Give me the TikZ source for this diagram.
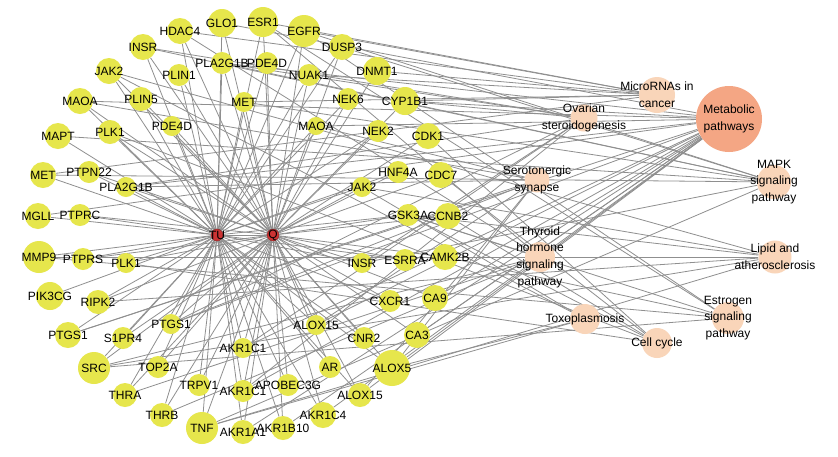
\documentclass[tikz,border=0pt]{standalone}
\usepackage{fontspec}
\setmainfont{Liberation Sans}
\pgfdeclarelayer{bg}
\pgfsetlayers{bg,main}
\definecolor{yel}{HTML}{E6E64C}
\definecolor{peach}{HTML}{F9D5B9}
\definecolor{salmon}{HTML}{F4A684}
\definecolor{hubred}{HTML}{CC3333}
\definecolor{edgegray}{HTML}{8F8F8F}
\tikzset{
 tgt/.style={circle,fill=yel,inner sep=0pt},
 pw/.style={circle,fill=peach,inner sep=0pt},
 hubnode/.style={circle,fill=hubred,draw=hubred!60!black,line width=0.4pt,inner sep=0pt,minimum size=12pt},
 lab/.style={font=\fontsize{12}{16.7}\selectfont,align=center,inner sep=0pt,text=black},
 lnk/.style={draw=edgegray,line width=0.8pt},
}
\newcommand\Tn[5]{\node[tgt,minimum size=#4pt] (#1) at (#2,#3) {}; \node[lab] (#1l) at (#1) {#5};}
\newcommand\Pn[6]{\node[pw,fill=#6,minimum size=#4pt] (#1) at (#2,#3) {}; \node[lab] (#1l) at (#1) {#5};}
\begin{document}
\begin{tikzpicture}[x=1pt,y=-1pt]
\useasboundingbox (0,0) rectangle (838,456);
% targets
\Tn{t1}{180}{31}{26}{HDAC4}
\Tn{t2}{222}{23}{28}{GLO1}
\Tn{t3}{263}{22}{30}{ESR1}
\Tn{t4}{304}{31}{32}{EGFR}
\Tn{t5}{143}{47}{26}{INSR}
\Tn{t6}{222}{63}{22}{PLA2G1B}
\Tn{t7}{267}{63}{22}{PDE4D}
\Tn{t8}{342}{47}{26}{DUSP3}
\Tn{t9}{109}{71}{26}{JAK2}
\Tn{t10}{179}{75}{22}{PLIN1}
\Tn{t11}{309}{75}{22}{NUAK1}
\Tn{t12}{377}{71}{28}{DNMT1}
\Tn{t13}{80}{101}{26}{MAOA}
\Tn{t14}{141}{99}{24}{PLIN5}
\Tn{t15}{244}{102}{20}{MET}
\Tn{t16}{348}{99}{22}{NEK6}
\Tn{t17}{405}{101}{28}{CYP1B1}
\Tn{t18}{58}{136}{26}{MAPT}
\Tn{t19}{110}{132}{24}{PLK1}
\Tn{t20}{172}{126}{20}{PDE4D}
\Tn{t21}{316}{126}{18}{MAOA}
\Tn{t22}{378}{131}{22}{NEK2}
\Tn{t23}{428}{136}{26}{CDK1}
\Tn{t24}{43}{175}{26}{MET}
\Tn{t25}{89}{172}{22}{PTPN22}
\Tn{t26}{126}{187}{20}{PLA2G1B}
\Tn{t27}{362}{187}{20}{JAK2}
\Tn{t28}{398}{172}{22}{HNF4A}
\Tn{t29}{441}{175}{26}{CDC7}
\Tn{t30}{38}{216}{26}{MGLL}
\Tn{t31}{80}{215}{22}{PTPRC}
\Tn{t32}{408}{215}{22}{GSK3A}
\Tn{t33}{448}{216}{26}{CCNB2}
\Tn{t34}{39}{257}{32}{MMP9}
\Tn{t35}{83}{259}{22}{PTPRS}
\Tn{t36}{126}{263}{20}{PLK1}
\Tn{t37}{362}{263}{20}{INSR}
\Tn{t38}{405}{260}{22}{ESRRA}
\Tn{t39}{445}{257}{26}{CAMK2B}
\Tn{t40}{50}{296}{28}{PIK3CG}
\Tn{t41}{98}{302}{24}{RIPK2}
\Tn{t42}{390}{301}{22}{CXCR1}
\Tn{t43}{435}{298}{26}{CA9}
\Tn{t44}{68}{335}{26}{PTGS1}
\Tn{t45}{171}{324}{20}{PTGS1}
\Tn{t46}{316}{325}{20}{ALOX15}
\Tn{t47}{123}{338}{22}{S1PR4}
\Tn{t48}{364}{338}{22}{CNR2}
\Tn{t49}{417}{335}{26}{CA3}
\Tn{t50}{243}{348}{20}{AKR1C1}
\Tn{t51}{94}{368}{32}{SRC}
\Tn{t52}{158}{367}{22}{TOP2A}
\Tn{t53}{330}{367}{22}{AR}
\Tn{t54}{392}{368}{36}{ALOX5}
\Tn{t55}{125}{395}{24}{THRA}
\Tn{t56}{199}{385}{22}{TRPV1}
\Tn{t57}{243}{391}{22}{AKR1C1}
\Tn{t58}{288}{385}{22}{APOBEC3G}
\Tn{t59}{360}{395}{24}{ALOX15}
\Tn{t60}{162}{415}{24}{THRB}
\Tn{t61}{202}{428}{32}{TNF}
\Tn{t62}{243}{432}{24}{AKR1A1}
\Tn{t63}{283}{428}{24}{AKR1B10}
\Tn{t64}{323}{415}{26}{AKR1C4}
% hubs
\node[hubnode] (TU) at (217,235) {};
\node[lab] (TUl) at (TU) {TU};
\node[hubnode] (Q) at (273,235) {};
\node[lab] (Ql) at (Q) {Q};
% pathways
\Pn{pM}{729}{119}{66}{Metabolic\\pathways}{salmon}
\Pn{pR}{657}{95}{36}{MicroRNAs in\\cancer}{peach}
\Pn{pO}{584}{118}{27}{Ovarian\\steroidogenesis}{peach}
\Pn{pS}{537}{180}{25}{Serotonergic\\synapse}{peach}
\Pn{pK}{774}{182}{34}{MAPK\\signaling\\pathway}{peach}
\Pn{pH}{540}{257}{30}{Thyroid\\hormone\\signaling\\pathway}{peach}
\Pn{pL}{775}{257}{33}{Lipid and\\atherosclerosis}{peach}
\Pn{pX}{585}{319}{30}{Toxoplasmosis}{peach}
\Pn{pE}{728}{318}{32}{Estrogen\\signaling\\pathway}{peach}
\Pn{pC}{657}{343}{30}{Cell cycle}{peach}
\begin{pgfonlayer}{bg}
\fill[white] (0,0) rectangle (838,456);
\draw[lnk] (TU) -- (Q);
\foreach \i in {1,...,11,13,14,15,16,18,19,20,21,22,24,25,26,27,28,30,31,32,34,35,36,37,38,40,41,42,44,45,46,47,48,50,51,52,53,54,55,56,57,58,59,60,61,62,63,64}
  \draw[lnk] (TU) -- (t\i);
\foreach \i in {1,...,17,19,20,21,22,23,25,26,27,28,29,31,32,33,35,36,37,38,39,41,42,43,45,46,47,48,49,50,51,52,53,54,55,56,57,58,59,60,61,62,63,64}
  \draw[lnk] (Q) -- (t\i);
\foreach \i in {2,6,13,17,21,26,30,44,45,46,50,54,57,59,62,63,64,43,49}
  \draw[lnk] (pM) -- (t\i);
\foreach \i in {1,3,4,11,12,15,17,24}
  \draw[lnk] (pR) -- (t\i);
\foreach \i in {5,6,17,26,37,45,50,57}
  \draw[lnk] (pO) -- (t\i);
\foreach \i in {4,5,6,8,15,18,24,37,61}
  \draw[lnk] (pK) -- (t\i);
\foreach \i in {13,21,26,44,45,46,54,59}
  \draw[lnk] (pS) -- (t\i);
\foreach \i in {1,3,32,51,55,60}
  \draw[lnk] (pH) -- (t\i);
\foreach \i in {9,27,32,34,39,41,51,61}
  \draw[lnk] (pL) -- (t\i);
\foreach \i in {3,4,32,34,39,51}
  \draw[lnk] (pE) -- (t\i);
\foreach \i in {9,27,54,61}
  \draw[lnk] (pX) -- (t\i);
\foreach \i in {19,23,29,32,33,36}
  \draw[lnk] (pC) -- (t\i);
\end{pgfonlayer}
\end{tikzpicture}
\end{document}
